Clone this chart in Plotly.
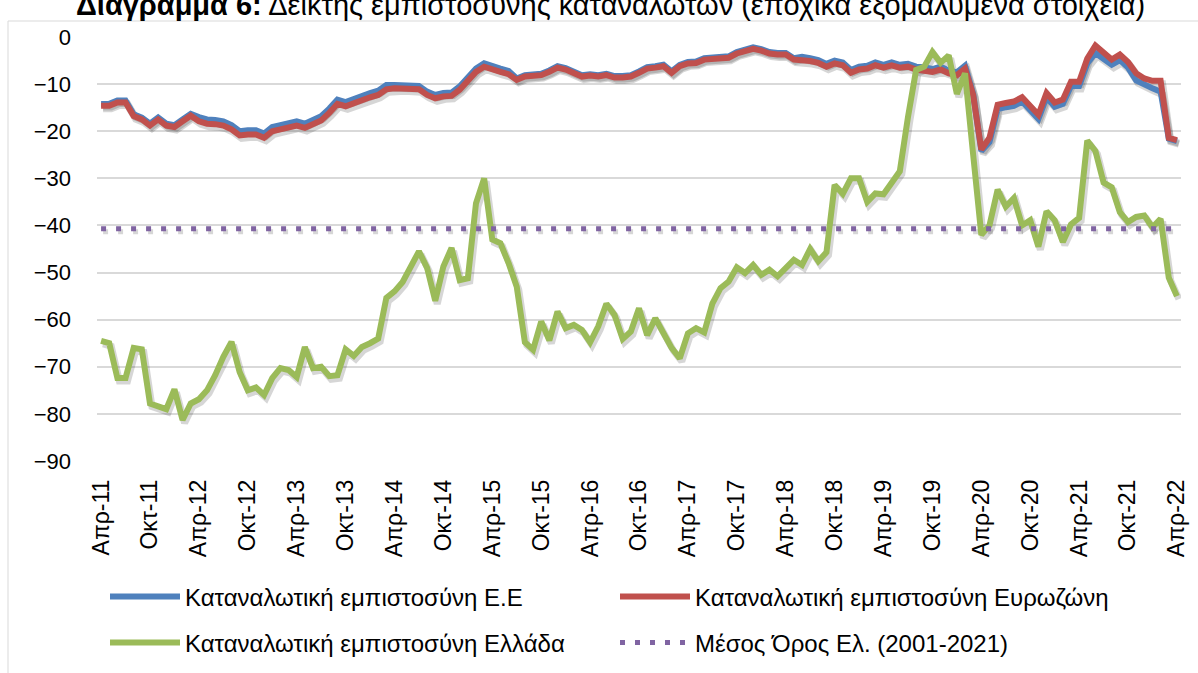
import plotly.graph_objects as go

# ---------------- data (monthly, Apr-2011 .. Apr-2022) ----------------
eurozone = [
    -14.6, -14.6, -13.9, -13.9, -16.8, -17.5, -18.8, -17.5, -18.8, -19.1, -17.9, -16.7,
    -17.9, -18.4, -18.5, -18.8, -19.6, -20.9, -20.7, -20.7, -21.4, -20.0, -19.6, -19.3,
    -18.8, -19.3, -18.6, -17.7, -16.1, -14.2, -14.7, -14.0, -13.5, -12.8, -12.3, -11.1,
    -10.9, -10.9, -11.0, -11.1, -12.3, -13.0, -12.6, -12.5, -11.2, -9.1, -7.4, -6.3,
    -6.7, -7.4, -7.9, -9.1, -8.4, -8.3, -8.1, -7.4, -6.5, -6.9, -7.6, -8.4,
    -8.2, -8.4, -8.1, -8.6, -8.6, -8.4, -7.6, -6.7, -6.5, -6.2, -7.6, -6.2,
    -5.6, -5.5, -4.8, -4.6, -4.6, -4.4, -3.5, -2.9, -2.5, -2.9, -3.5, -3.7,
    -3.7, -4.8, -4.8, -5.1, -5.5, -6.3, -5.6, -6.0, -7.6, -6.9, -6.7, -6.0,
    -6.5, -6.0, -6.5, -6.3, -6.9, -7.0, -7.4, -6.9, -7.7, -8.1, -6.7, -12.3,
    -23.9, -21.4, -14.4, -14.0, -13.7, -12.8, -14.6, -16.5, -11.9, -13.9, -13.3, -9.5,
    -9.5, -4.6, -1.8, -3.5, -4.8, -3.7, -5.3, -7.7, -8.8, -9.3, -9.3, -21.4,
    -21.9,
]

eu = [
    -14.2, -14.2, -13.5, -13.5, -16.4, -17.1, -18.4, -17.1, -18.4, -18.7, -17.5, -16.3,
    -17.0, -17.5, -17.6, -17.9, -18.7, -20.0, -19.8, -19.8, -20.5, -19.1, -18.7, -18.4,
    -17.9, -18.4, -17.7, -16.8, -15.2, -13.3, -13.8, -13.1, -12.6, -11.9, -11.4, -10.2,
    -10.2, -10.2, -10.3, -10.4, -11.6, -12.3, -11.9, -11.8, -10.5, -8.4, -6.7, -5.6,
    -6.0, -6.7, -7.2, -8.8, -8.1, -8.0, -7.8, -7.1, -6.2, -6.6, -7.3, -8.1,
    -7.9, -8.1, -7.8, -8.3, -8.3, -8.1, -7.3, -6.4, -6.2, -5.9, -7.3, -5.9,
    -5.3, -5.2, -4.5, -4.3, -4.3, -4.1, -3.2, -2.6, -2.2, -2.6, -3.2, -3.4,
    -3.4, -4.5, -4.2, -4.5, -4.9, -5.7, -5.0, -5.4, -7.0, -6.3, -6.1, -5.4,
    -5.9, -5.4, -5.9, -5.7, -6.3, -6.4, -6.8, -6.3, -7.1, -7.5, -6.1, -12.1,
    -24.2, -22.3, -15.3, -14.9, -14.6, -13.7, -15.5, -17.4, -12.8, -14.8, -14.2, -10.4,
    -10.4, -5.6, -3.4, -4.6, -5.9, -4.9, -6.5, -9.2, -10.2, -10.9, -11.6, -21.6,
    -22.1,
]

greece = [
    -64.5, -65.0, -72.4, -72.4, -66.0, -66.3, -77.8, -78.3, -79.0, -74.8, -81.3, -77.8,
    -76.9, -75.0, -71.8, -67.9, -64.7, -71.1, -75.0, -74.4, -76.0, -72.4, -70.3, -70.7,
    -72.2, -65.8, -70.3, -70.0, -72.0, -71.8, -66.3, -67.7, -65.8, -65.0, -64.0, -55.4,
    -54.0, -52.0, -49.0, -45.5, -49.0, -56.0, -48.7, -44.8, -51.6, -51.2, -35.3, -30.0,
    -43.0, -43.8, -48.0, -53.0, -64.8, -66.4, -60.4, -64.4, -58.3, -61.8, -61.1, -62.2,
    -64.8, -61.4, -56.6, -59.0, -64.1, -62.5, -57.6, -63.3, -59.7, -63.2, -66.0, -68.2,
    -62.9, -61.8, -62.7, -56.6, -53.3, -51.9, -48.9, -50.1, -48.4, -50.5, -49.4, -50.8,
    -49.1, -47.3, -48.4, -45.0, -47.6, -45.7, -31.4, -33.3, -30.0, -30.0, -35.0, -33.2,
    -33.4, -30.9, -28.5, -17.0, -7.0, -6.3, -3.2, -5.5, -3.9, -12.1, -7.7, -25.0,
    -42.0, -40.0, -32.4, -36.0, -34.2, -40.0, -38.9, -44.5, -37.0, -38.9, -43.5, -39.8,
    -38.4, -22.0, -24.2, -30.9, -31.9, -37.2, -39.3, -38.2, -37.9, -40.4, -38.6, -51.1,
    -55.0,
]

mean_greece = -40.7  # Μέσος Όρος Ελ. (2001-2021)

tick_labels = [
    "Απρ-11", "Οκτ-11", "Απρ-12", "Οκτ-12", "Απρ-13", "Οκτ-13", "Απρ-14", "Οκτ-14",
    "Απρ-15", "Οκτ-15", "Απρ-16", "Οκτ-16", "Απρ-17", "Οκτ-17", "Απρ-18", "Οκτ-18",
    "Απρ-19", "Οκτ-19", "Απρ-20", "Οκτ-20", "Απρ-21", "Οκτ-21", "Απρ-22",
]

names = [
    "Καταναλωτική εμπιστοσύνη Ε.Ε",
    "Καταναλωτική εμπιστοσύνη Ευρωζώνη",
    "Καταναλωτική εμπιστοσύνη Ελλάδα",
    "Μέσος Όρος Ελ. (2001-2021)",
]

title_text = ("<b>Διάγραμμα 6:</b> Δείκτης εμπιστοσύνης καταναλωτών "
              "(εποχικά εξομαλυμένα στοιχεία)")

assert len(eurozone) == len(eu) == len(greece) == 133

# ---------------- figure ----------------
W, H = 1198, 673
ML, MR, MT, MB = 97, 17, 37, 212
PW, PH = W - ML - MR, H - MT - MB

n = len(greece)
x = list(range(n))
mean_line = [mean_greece] * n

BLUE, RED, GREEN, PURPLE = "#4F81BD", "#C0504D", "#9BBB59", "#8064A2"
LW = 6
DOT = "5px,10px"

# shadow offset (px) -> implemented by shifting the range of a hidden axis pair
SX, SY = 2.0, 3.0
xr = [-0.5, n - 0.5]
yr = [-90, 0]
dx = SX * (xr[1] - xr[0]) / PW
dy = SY * (yr[1] - yr[0]) / PH

fig = go.Figure()

shadow = "rgba(0,0,0,0.16)"
for ys in (eu, eurozone, greece):
    fig.add_trace(go.Scatter(x=x, y=ys, mode="lines", xaxis="x", yaxis="y",
                             line=dict(color=shadow, width=LW + 1),
                             showlegend=False, hoverinfo="skip"))
fig.add_trace(go.Scatter(x=x, y=mean_line, mode="lines", xaxis="x", yaxis="y",
                         line=dict(color=shadow, width=5, dash=DOT),
                         showlegend=False, hoverinfo="skip"))

fig.add_trace(go.Scatter(x=x, y=eu, name=names[0], mode="lines", xaxis="x2", yaxis="y2",
                         line=dict(color=BLUE, width=LW), legend="legend"))
fig.add_trace(go.Scatter(x=x, y=eurozone, name=names[1], mode="lines", xaxis="x2", yaxis="y2",
                         line=dict(color=RED, width=LW), legend="legend2"))
fig.add_trace(go.Scatter(x=x, y=greece, name=names[2], mode="lines", xaxis="x2", yaxis="y2",
                         line=dict(color=GREEN, width=LW), legend="legend3"))
fig.add_trace(go.Scatter(x=x, y=mean_line, name=names[3], mode="lines", xaxis="x2", yaxis="y2",
                         line=dict(color=PURPLE, width=5, dash=DOT), legend="legend4"))

ytick_font = dict(family="Liberation Sans, Arial, sans-serif", size=22, color="#000000")
xtick_font = dict(family="Liberation Sans, Arial, sans-serif", size=23, color="#000000")
legend_font = dict(family="Liberation Sans, Arial, sans-serif", size=24, color="#000000")


def leg(px, py):
    return dict(orientation="h", xref="container", yref="container",
                x=px / W, y=1 - py / H, xanchor="left", yanchor="middle",
                itemwidth=70, font=legend_font, bgcolor="rgba(0,0,0,0)",
                borderwidth=0)


fig.update_layout(
    width=W, height=H,
    margin=dict(l=ML, r=MR, t=MT, b=MB, pad=0, autoexpand=False),
    paper_bgcolor="white", plot_bgcolor="white",
    hovermode=False,
    xaxis=dict(range=[xr[0] - dx, xr[1] - dx], visible=False, fixedrange=True,
               automargin=False),
    yaxis=dict(range=[yr[0] + dy, yr[1] + dy], visible=False, fixedrange=True,
               automargin=False),
    xaxis2=dict(overlaying="x", anchor="y2", range=xr, side="bottom",
                tickmode="array", tickvals=list(range(0, n, 6)), ticktext=tick_labels,
                tickangle=-90, tickfont=xtick_font, showgrid=False, zeroline=False,
                showline=False, ticks="", ticklabelstandoff=13, automargin=False,
                fixedrange=True),
    yaxis2=dict(overlaying="y", anchor="x2", range=yr, side="left",
                tickmode="linear", tick0=0, dtick=10, tickfont=ytick_font,
                showgrid=True, gridcolor="#D9D9D9", gridwidth=2, zeroline=False,
                showline=False, ticks="", ticklabelstandoff=25, automargin=False,
                fixedrange=True),
    legend=leg(105, 597),
    legend2=leg(615, 597),
    legend3=leg(105, 643),
    legend4=leg(615, 643),
    shapes=[dict(type="rect", xref="paper", yref="paper",
                 x0=(8 - ML) / PW, x1=1.3, y0=-1.0, y1=1 + (MT - 21) / PH,
                 line=dict(color="#D9D9D9", width=1), fillcolor="rgba(0,0,0,0)",
                 layer="below")],
    annotations=[dict(xref="paper", yref="paper",
                      x=(610 - ML) / PW, y=1 + (MT - 5) / PH,
                      xanchor="center", yanchor="middle", showarrow=False,
                      text=title_text,
                      font=dict(family="Liberation Sans, Arial, sans-serif", size=29,
                                color="#000000"))],
)

# remove the browser's default 8px body margin so the figure sits at the page origin
fig.write_html("out.html", config={"displayModeBar": False},
               post_script="document.body.style.margin='0px';")
